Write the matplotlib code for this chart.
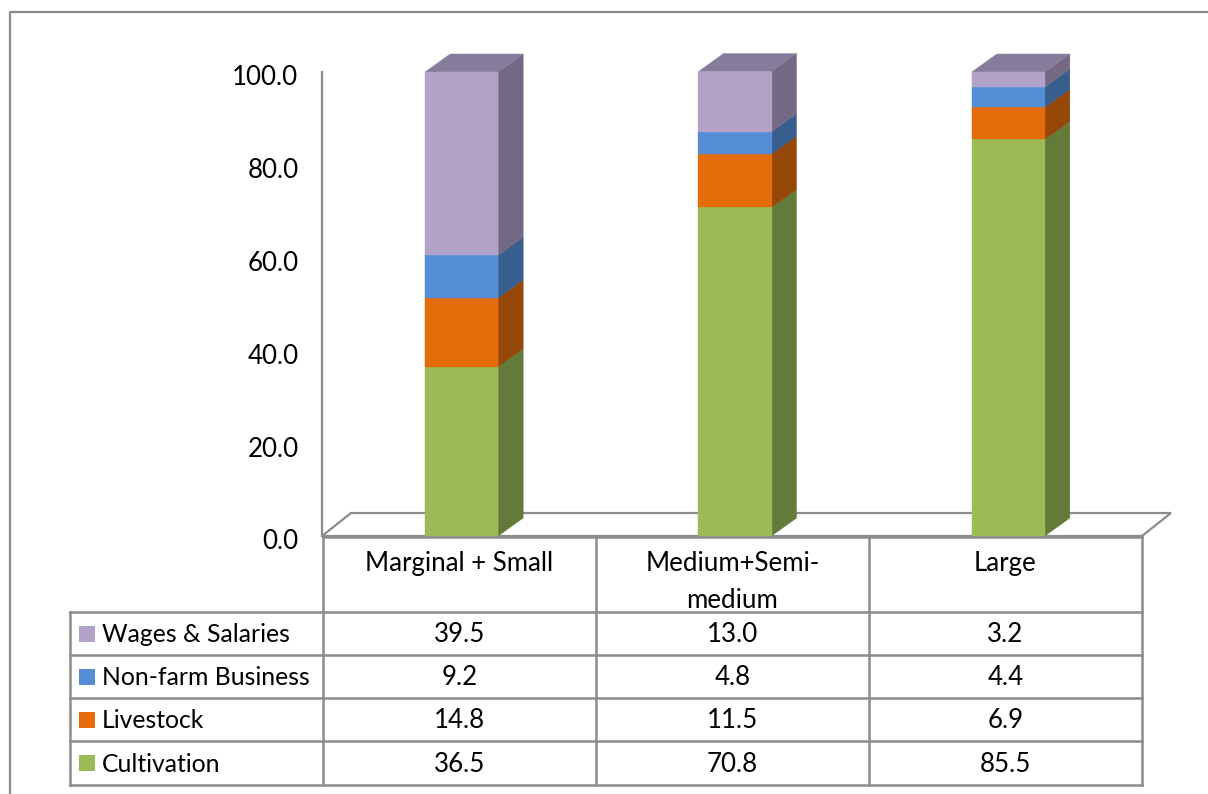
import matplotlib.pyplot as plt
from matplotlib.patches import Polygon, Rectangle
from matplotlib.transforms import ScaledTranslation

plt.rcParams['font.family'] = ['Lato', 'DejaVu Sans']

categories = ['Marginal + Small', 'Medium+Semi-\nmedium', 'Large']
series = ['Wages & Salaries', 'Non-farm Business', 'Livestock', 'Cultivation']
wages = [39.5, 13.0, 3.2]
nonfarm = [9.2, 4.8, 4.4]
livestock = [14.8, 11.5, 6.9]
cultivation = [36.5, 70.8, 85.5]
yticks = [0, 20, 40, 60, 80, 100]

# front / side / top shades per series
colors = {
    'Wages & Salaries': ('#B3A2C7', '#736985', '#877C9C'),
    'Non-farm Business': ('#558ED5', '#385E8D', '#4A7BB8'),
    'Livestock': ('#E46C0A', '#954708', '#C25C08'),
    'Cultivation': ('#9BBB59', '#647A39', '#86A24C'),
}
values = {'Wages & Salaries': wages, 'Non-farm Business': nonfarm,
          'Livestock': livestock, 'Cultivation': cultivation}
stack_order = ['Cultivation', 'Livestock', 'Non-farm Business', 'Wages & Salaries']

W, H = 1208, 794
FS = 18.6
GRID = '#8C8C8C'

fig = plt.figure(figsize=(W / 100, H / 100), dpi=100)

# background layer in pixel units: frame and data table
ov = fig.add_axes([0, 0, 1, 1], zorder=0)
ov.set_xlim(0, W)
ov.set_ylim(H, 0)
ov.axis('off')
ov.plot([10, 10, W + 5], [H + 5, 12, 12], color=GRID, lw=1.6, clip_on=False)

col_x = [70, 323, 596, 869, 1142]
row_y = [537, 612, 655, 698, 741, 785]
ov.plot([col_x[1], col_x[-1]], [row_y[0], row_y[0]], color=GRID, lw=1.8)
for y in row_y[1:]:
    ov.plot([col_x[0], col_x[-1]], [y, y], color=GRID, lw=1.8)
ov.plot([col_x[0], col_x[0]], [row_y[1], row_y[-1]], color=GRID, lw=1.8)
for x in col_x[1:]:
    ov.plot([x, x], [row_y[0], row_y[-1]], color=GRID, lw=1.8)

for j, cat in enumerate(categories):
    cx = (col_x[j + 1] + col_x[j + 2]) / 2
    ov.text(cx, 551, cat, ha='center', va='top', fontsize=FS, linespacing=1.62)

for r, name in enumerate(series):
    cy = (row_y[r + 1] + row_y[r + 2]) / 2 + 1
    ov.add_patch(Rectangle((79, cy - 9), 16, 16, color=colors[name][0], lw=0))
    ov.text(102, cy, name, ha='left', va='center', fontsize=FS - 0.8)
    for j, v in enumerate(values[name]):
        cx = (col_x[j + 1] + col_x[j + 2]) / 2
        ov.text(cx, cy, f'{v:.1f}', ha='center', va='center', fontsize=FS)

# chart area: x in category units, y in percent
ax = fig.add_axes([322 / W, (H - 536) / H, 820 / W, 464 / H], zorder=1)
ax.patch.set_alpha(0)
ax.set_xlim(0, 3)
ax.set_ylim(0, 100)
for s in ['top', 'right', 'bottom']:
    ax.spines[s].set_visible(False)
ax.spines['left'].set_color(GRID)
ax.spines['left'].set_linewidth(1.6)
ax.set_xticks([])
ax.set_yticks(yticks)
ax.set_yticklabels([f'{t:.1f}' for t in yticks], fontsize=FS)
ax.tick_params(axis='y', length=0, pad=17)
nudge = ScaledTranslation(0, -2.5 / 72, fig.dpi_scale_trans)
for lab in ax.get_yticklabels():
    lab.set_transform(lab.get_transform() + nudge)

# floor
fdx, fdy = 29 / 273.3, 23 / 4.64
ax.add_patch(Polygon([(0, 0), (fdx, fdy), (3 + fdx, fdy), (3, 0)], closed=True,
                     fc='white', ec=GRID, lw=1.6, clip_on=False, zorder=1))

bw = 73 / 273.3
shift = 3 / 273.3
dx, dy = 25 / 273.3, 18 / 4.64
for i in range(len(categories)):
    x0 = i + 0.5 + shift - bw / 2
    x1 = x0 + bw
    bottom = 0.0
    for k, name in enumerate(stack_order):
        h = values[name][i]
        front, side, top = colors[name]
        ax.add_patch(Rectangle((x0, bottom), bw, h, fc=front, ec=front, lw=0.3,
                               clip_on=False, zorder=3))
        ax.add_patch(Polygon([(x1, bottom), (x1 + dx, bottom + dy),
                              (x1 + dx, bottom + h + dy), (x1, bottom + h)],
                             closed=True, fc=side, ec=side, lw=0.3,
                             clip_on=False, zorder=2))
        if k == len(stack_order) - 1:
            yt = bottom + h
            ax.add_patch(Polygon([(x0, yt), (x0 + dx, yt + dy), (x1 + dx, yt + dy),
                                  (x1, yt)], closed=True, fc=top, ec=top, lw=0.3,
                                 clip_on=False, zorder=2))
        bottom += h

fig.savefig('out.png', dpi=100)
